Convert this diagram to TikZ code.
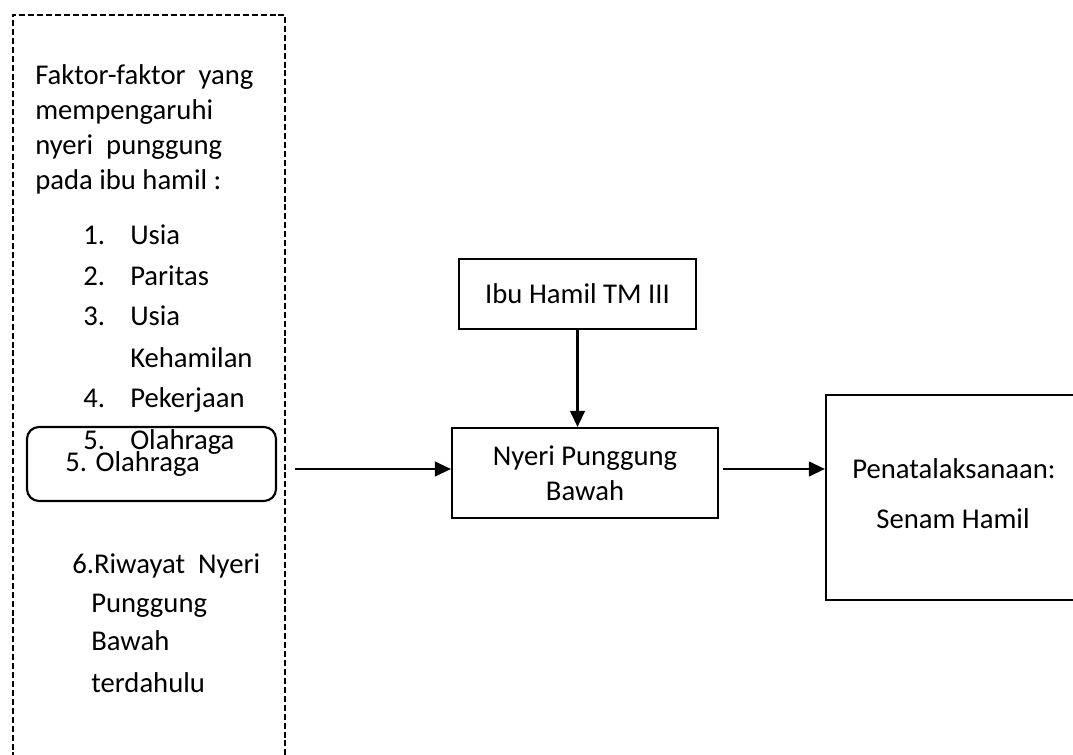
\documentclass[tikz,border=0pt]{standalone}
\usepackage{fontspec}
\setmainfont{Carlito}
\usetikzlibrary{arrows.meta}
\begin{document}
\begin{tikzpicture}[x=0.75pt,y=-0.75pt,
  txt/.style={inner sep=0pt, anchor=mid west, font=\fontsize{21.5}{26.25}\selectfont},
  ctxt/.style={inner sep=0pt, anchor=mid, font=\fontsize{21.5}{26.25}\selectfont},
  box/.style={draw, line width=1.6pt, inner sep=0pt, font=\fontsize{21.5}{26.25}\selectfont, align=center},
  dashbox/.style={line width=1.6pt, dash pattern=on 4.5pt off 2.2pt},
  arr/.style={line width=1.6pt, -{Triangle[length=12pt,width=11pt]}}]
\clip (0,0) rectangle (1073,755);
% dashed factor frame (open at bottom)
\node[inner sep=0pt, minimum width=204pt, minimum height=577.5pt] (fac) at (149,400) {};
\draw[dashbox] (fac.south west) -- (fac.north west) -- (fac.north east) -- (fac.south east);
\node[txt] (t1) at (35,81) {Faktor-faktor\ \ yang};
\node[txt] (t2) at (35,116) {mempengaruhi};
\node[txt] (t3) at (35,151) {nyeri\ \ punggung};
\node[txt] (t4) at (35,186) {pada ibu hamil :};
\node[txt] (n1) at (83,241) {1.};
\node[txt] (i1) at (130,241) {Usia};
\node[txt] (n2) at (83,282) {2.};
\node[txt] (i2) at (130,282) {Paritas};
\node[txt] (n3) at (83,322) {3.};
\node[txt] (i3) at (130,322) {Usia};
\node[txt] (i3b) at (130,364) {Kehamilan};
\node[txt] (n4) at (83,404) {4.};
\node[txt] (i4) at (130,404) {Pekerjaan};
\node[txt] (n5) at (83,446) {5.};
\node[txt] (i5) at (130,446) {Olahraga};
% rounded box
\node[draw, line width=1.6pt, rounded corners=9pt, minimum width=186.75pt, minimum height=55.5pt, inner sep=0pt] (olah) at (151.5,464) {};
\node[txt] (olaht) at (65,468) {5. Olahraga};
\node[txt] (r1) at (72,570) {6.Riwayat\ \ Nyeri};
\node[txt] (r2) at (91,609) {Punggung};
\node[txt] (r3) at (91,647) {Bawah};
\node[txt] (r4) at (91,689) {terdahulu};
% main boxes
\node[box, minimum width=177.75pt, minimum height=52.5pt] (ibu) at (577.5,294) {Ibu Hamil TM III};
\node[box, minimum width=199.5pt, minimum height=67.5pt] (nyeri) at (585,473) {Nyeri Punggung\\Bawah};
\node[box, minimum width=198pt, minimum height=153.75pt] (pen) at (958,497.5) {};
\node[txt] (pent) at (852,475) {Penatalaksanaan:};
\node[ctxt] (sen) at (953,525) {Senam Hamil};
% connectors
\coordinate (a0) at (295,469);
\draw[arr] (a0) -- (a0 -| nyeri.west);
\draw[arr] (ibu.south) -- (ibu.south |- nyeri.north);
\coordinate (b0) at (723,469);
\draw[arr] (b0) -- (b0 -| pen.west);
\end{tikzpicture}
\end{document}
